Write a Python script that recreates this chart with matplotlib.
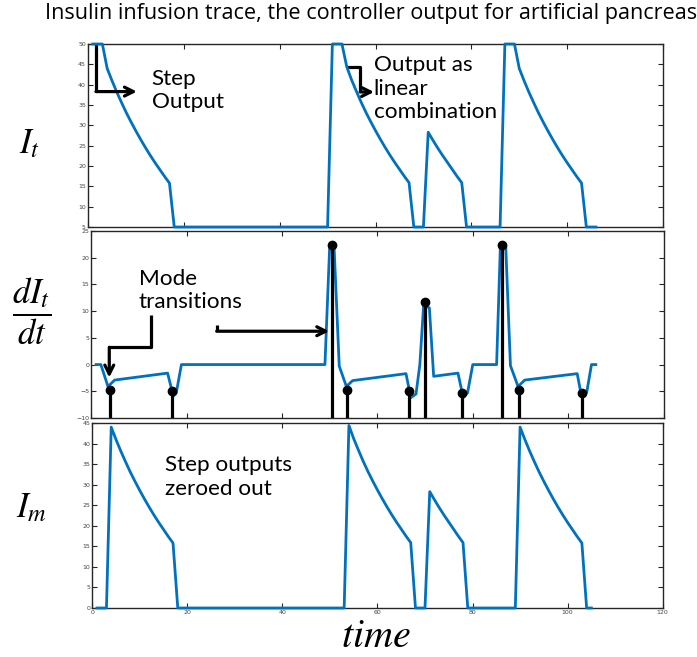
import numpy as np
import matplotlib.pyplot as plt

# values (time step = 1)
pulse_1 = [44.0, 41.0, 38.2, 35.6, 33.1, 30.8, 28.6, 26.5, 24.5, 22.6, 20.8, 19.1, 17.4, 15.8]
pulse_2 = [44.4, 41.2, 38.4, 35.7, 33.2, 30.9, 28.7, 26.6, 24.6, 22.7, 20.9, 19.2, 17.5, 15.9]
pulse_small = [28.3, 26.3, 24.4, 22.6, 20.9, 19.2, 17.5, 15.9]
pulse_3 = [44.0, 41.0, 38.2, 35.6, 33.1, 30.8, 28.6, 26.5, 24.5, 22.6, 20.8, 19.1, 17.4, 15.8]
step_out = [50, 50, 50]
floor_t = 5  # I_t rests on the bottom of its axis

insulin_t = (step_out + pulse_1 + [floor_t] * 33 + step_out + pulse_2 + [floor_t] * 3 + pulse_small
             + [floor_t] * 8 + step_out + pulse_3 + [floor_t] * 3)
insulin_m = ([0] * 3 + pulse_1 + [0] * 36 + pulse_2 + [0] * 3 + pulse_small
             + [0] * 11 + pulse_3 + [0] * 2)
time_t = np.arange(1, len(insulin_t) + 1)
time_m = np.arange(1, len(insulin_m) + 1)

# derivative trace (points as read)
deriv_time = [1.0, 2.0, 3.5, 4.9, 16.0, 17.2, 17.8, 18.9, 49.0, 50.0, 50.9, 52.0, 53.5, 54.8,
              66.0, 67.0, 68.1, 68.9, 69.7, 70.9, 71.8, 76.9, 78.0, 78.9, 80.0, 85.0, 85.8,
              86.9, 87.9, 89.5, 90.9, 101.9, 102.8, 103.9, 104.9, 105.8]
deriv_val = [0, 0, -4.1, -2.9, -1.6, -5.9, -5.4, 0, 0, 22.3, 22.3, -0.3, -4.1, -3.0,
             -1.7, -6.2, -5.5, 0, 11.2, 10.6, -2.2, -1.6, -6.2, -5.3, 0, 0, 22.5,
             22.5, -0.2, -4.1, -2.9, -1.7, -5.9, -5.2, 0, 0]

# mode transitions
trans_time = [3.85, 16.85, 50.4, 53.7, 66.7, 70.0, 77.8, 86.1, 89.7, 103.0]
trans_val = [-4.8, -5.0, 22.3, -4.7, -4.9, 11.7, -5.3, 22.3, -4.8, -5.3]

blue = "#0072BD"
W, H = 697, 657
plt.rcParams["mathtext.fontset"] = "stix"
fig = plt.figure(figsize=(W / 100, H / 100), dpi=100)

def box(l, r, t, b):
    return [l / W, 1 - b / H, (r - l) / W, (b - t) / H]

ax1 = fig.add_axes(box(88, 663, 44, 227))
ax2 = fig.add_axes(box(91.3, 663.5, 231, 418))
ax3 = fig.add_axes(box(92.2, 662.7, 423, 608))

for ax in (ax1, ax2, ax3):
    ax.set_xlim(0, 120)
    ax.set_xticks(np.arange(0, 121, 20))
    ax.tick_params(direction="in", top=True, right=True, length=3.5, width=0.8,
                   labelsize=4.5, pad=1.5, labelcolor="#444444", color="#262626")
    for s in ax.spines.values():
        s.set_linewidth(1.0)
        s.set_color("#262626")

ax1.plot(time_t, insulin_t, color=blue, lw=2, clip_on=False, zorder=3)
ax1.set_ylim(5, 50)
ax1.set_yticks(np.arange(5, 51, 5))
ax1.set_xticklabels([])

ax2.plot(deriv_time, deriv_val, color=blue, lw=2)
ml, sl, bl = ax2.stem(trans_time, trans_val, linefmt="k-", markerfmt="ko", bottom=-10)
sl.set_linewidth(2.3)
ml.set_markersize(6)
bl.set_visible(False)
ax2.set_ylim(-10, 25)
ax2.set_yticks(np.arange(-10, 26, 5))
ax2.set_xticklabels([])

ax3.plot(time_m, insulin_m, color=blue, lw=2, clip_on=False, zorder=3)
ax3.set_ylim(0, 45)
ax3.set_yticks(np.arange(0, 46, 5))

txt = dict(family="Lato", fontsize=16.2, linespacing=1.22, color="black")
ax1.text(13.3, 38.6, "Step\nOutput", va="center", ha="left", **txt)
ax1.text(59.6, 39.0, "Output as\nlinear\ncombination", va="center", ha="left", **txt)
ax2.text(10.0, 13.9, "Mode\ntransitions", va="center", ha="left", **txt)
ax3.text(15.3, 31.9, "Step outputs\nzeroed out", va="center", ha="left", **txt)

def elbow(ax, xs, ys):
    ax.plot(xs[:-1], ys[:-1], color="black", lw=2.3, solid_capstyle="butt", clip_on=False)
    ax.annotate("", xy=(xs[-1], ys[-1]), xytext=(xs[-2], ys[-2]),
                arrowprops=dict(arrowstyle="->", lw=2.3, color="black",
                                mutation_scale=16, shrinkA=0, shrinkB=0))

elbow(ax1, [1.67, 1.67, 10.2], [50, 38.3, 38.3])
elbow(ax1, [53.9, 56.8, 56.8, 59.7], [44.4, 44.4, 38.2, 38.2])
elbow(ax2, [12.45, 12.45, 3.77, 3.77], [9.36, 3.24, 3.24, -2.43])
elbow(ax2, [26.3, 26.3, 49.9], [7.49, 6.24, 6.24])

fig.text(45 / W, 1 - 13 / H, "Insulin infusion trace, the controller output for artificial pancreas",
         family="Open Sans", fontsize=15.6, ha="left", va="center")

fig.text(30 / W, 1 - 143 / H, r"$I_t$", fontsize=25, ha="center", va="center")
fig.text(32 / W, 1 - 311 / H, r"$\dfrac{dI_t}{dt}$", fontsize=25, ha="center", va="center")
fig.text(31 / W, 1 - 507 / H, r"$I_m$", fontsize=25, ha="center", va="center")
fig.text(376 / W, 1 - 636 / H, r"$time$", fontsize=29, ha="center", va="center")

fig.savefig("out.png", dpi=100)
